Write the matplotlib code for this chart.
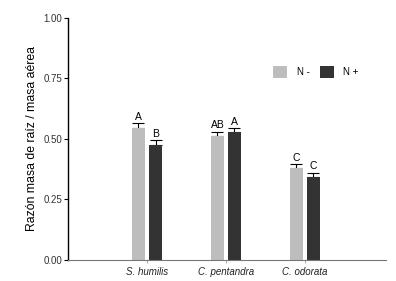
import matplotlib
matplotlib.use("Agg")
import matplotlib.pyplot as plt
import numpy as np

plt.rcParams['font.family'] = ['Liberation Sans', 'DejaVu Sans']

species = ["S. humilis", "C. pentandra", "C. odorata"]
n_minus = [0.545, 0.514, 0.379]
n_minus_err = [0.020, 0.015, 0.016]
n_plus = [0.475, 0.529, 0.343]
n_plus_err = [0.020, 0.015, 0.017]
letters_minus = ["A", "AB", "C"]
letters_plus = ["B", "A", "C"]
yticks = [0.00, 0.25, 0.50, 0.75, 1.00]

fig = plt.figure(figsize=(3.96, 2.81), dpi=100)
ax = fig.add_axes([0.172, 0.075, 0.803, 0.861])

x = np.arange(1, len(species) + 1)
w = 0.166
off = 0.108
c_light = "#bdbdbd"
c_dark = "#333333"

ax.bar(x - off, n_minus, width=w, color=c_light, label="N -", zorder=2)
ax.bar(x + off, n_plus, width=w, color=c_dark, label="N +", zorder=2)
ax.errorbar(x - off, n_minus, yerr=[np.zeros(3), n_minus_err], fmt="none",
            ecolor="black", elinewidth=0.8, capsize=4.6, capthick=0.8, zorder=1)
ax.errorbar(x + off, n_plus, yerr=[np.zeros(3), n_plus_err], fmt="none",
            ecolor="black", elinewidth=0.8, capsize=4.6, capthick=0.8, zorder=1)

for xi, v, e, t in zip(x - off, n_minus, n_minus_err, letters_minus):
    ax.text(xi, v + e + 0.006, t, ha="center", va="bottom", fontsize=7.5)
for xi, v, e, t in zip(x + off, n_plus, n_plus_err, letters_plus):
    ax.text(xi, v + e + 0.006, t, ha="center", va="bottom", fontsize=7.5)

ax.set_xlim(0, 4.03)
ax.set_ylim(0, 1.0)
ax.set_yticks(yticks)
ax.set_yticklabels([f"{v:.2f}" for v in yticks], fontsize=7, color="#333333")
ax.set_xticks(x)
ax.set_xticklabels(species, fontsize=7, style="italic", color="#222222")
ax.tick_params(axis="x", length=2, width=0.6, color="#999999", pad=3)
ax.tick_params(axis="y", length=3, width=0.8, pad=1)

ax.spines["top"].set_visible(False)
ax.spines["right"].set_visible(False)
ax.spines["left"].set_linewidth(1.0)
ax.spines["bottom"].set_color("#777777")
ax.spines["bottom"].set_linewidth(0.8)

ax.set_ylabel("Razón masa de raíz / masa aérea", fontsize=8.8, labelpad=4)

ax.legend(loc="upper left", bbox_to_anchor=(0.645, 0.80), ncol=2, frameon=False,
          fontsize=7, handlelength=1.45, handleheight=1.45, columnspacing=1.0,
          handletextpad=1.0, borderpad=0, borderaxespad=0)

fig.savefig("out.png", dpi=100)
